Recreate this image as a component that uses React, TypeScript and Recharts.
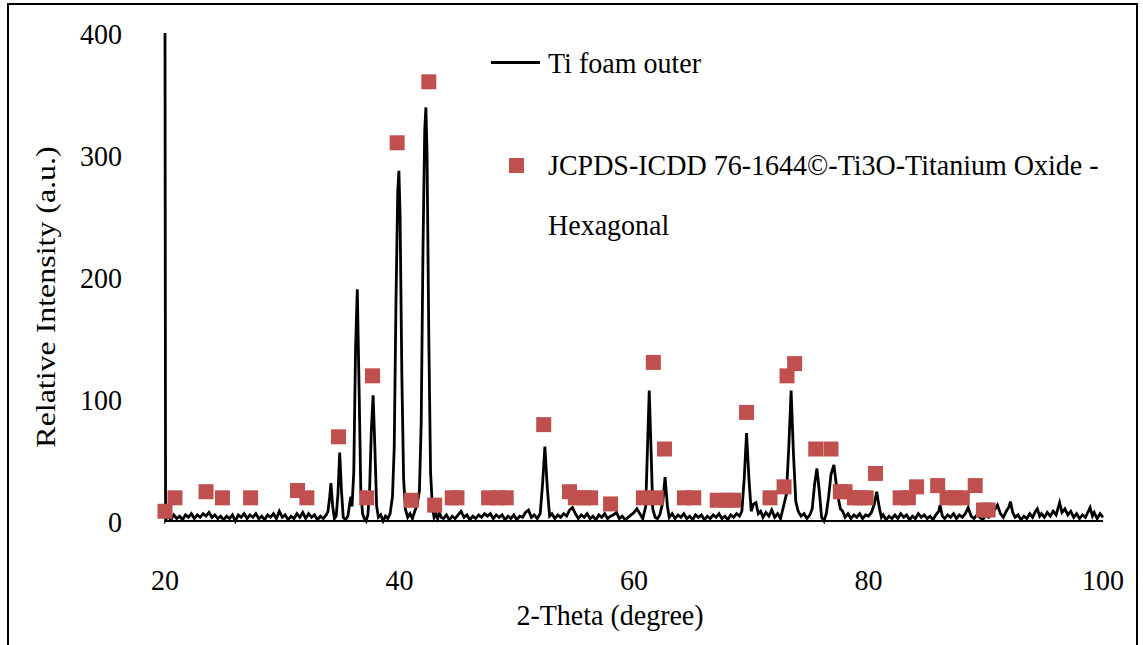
import React from 'react';
import { ComposedChart, Line, Scatter, XAxis, YAxis } from 'recharts';

const FONT = '"Liberation Serif", "Times New Roman", serif';
const STRETCH = 1.08;

// Measured XRD scan: [2-theta, intensity]
const scanLowAngle: [number, number][] = [
  [20.0, 400], [20.05, 1], [20.25, 4], [20.5, 1], [20.75, 5], [21.0, 2], [21.25, 4], [21.5, 1], [21.75, 5],
  [22.0, 3], [22.25, 6], [22.5, 2], [22.75, 5], [23.0, 3], [23.25, 6], [23.5, 4], [23.75, 7], [24.0, 3],
  [24.25, 5], [24.5, 2], [24.75, 4], [25.0, 1], [25.25, 4], [25.5, 2], [25.75, 5], [26.0, 0], [26.25, 5],
  [26.5, 3], [26.75, 6], [27.0, 2], [27.25, 5], [27.5, 3], [27.75, 6], [28.0, 2], [28.25, 4], [28.5, 1],
  [28.75, 5], [29.0, 3], [29.25, 6], [29.5, 2], [29.75, 8], [30.0, 3], [30.25, 5], [30.5, 1], [30.75, 4],
  [31.0, 2], [31.25, 6], [31.5, 3], [31.75, 7], [32.0, 2], [32.25, 6], [32.5, 3], [32.75, 5], [33.0, 1],
  [33.25, 4], [33.5, 2], [33.75, 5],
];

const scanMainPeaks: [number, number][] = [
  [33.9, 8], [34.05, 20], [34.15, 31], [34.3, 12], [34.45, 2], [34.6, 4], [34.75, 22], [34.9, 56], [35.05, 25],
  [35.2, 3], [35.4, 1], [35.6, 4], [35.75, 14], [35.85, 20], [35.95, 12], [36.1, 40], [36.25, 140], [36.4, 190],
  [36.55, 110], [36.7, 25], [36.85, 6], [37.0, 2], [37.15, 0], [37.3, 5], [37.45, 25], [37.6, 75], [37.75, 103],
  [37.9, 60], [38.05, 12], [38.2, 3], [38.4, 5], [38.6, 0], [38.8, 4], [39.0, 2], [39.2, 6], [39.4, 20],
  [39.55, 60], [39.7, 180], [39.85, 270], [39.95, 287], [40.05, 250], [40.2, 120], [40.35, 35], [40.5, 10],
  [40.7, 3], [40.9, 6], [41.1, 2], [41.3, 8], [41.5, 13], [41.7, 25], [41.85, 80], [42.0, 220], [42.15, 320],
  [42.25, 339], [42.35, 300], [42.5, 150], [42.65, 40], [42.8, 12], [42.95, 3], [43.1, 6], [43.25, 2],
  [43.4, 7], [43.55, 3],
];

const scanMidAngle: [number, number][] = [
  [43.75, 2], [44.0, 5], [44.25, 1], [44.5, 4], [44.75, 2], [45.0, 5], [45.25, 8], [45.5, 3], [45.75, 5],
  [46.0, 1], [46.25, 4], [46.5, 2], [46.75, 5], [47.0, 3], [47.25, 6], [47.5, 4], [47.75, 6], [48.0, 2],
  [48.25, 5], [48.5, 3], [48.75, 5], [49.0, 1], [49.25, 4], [49.5, 2], [49.75, 5], [50.0, 1], [50.25, 4],
  [50.5, 3], [50.75, 7], [51.0, 9], [51.25, 3], [51.5, 5], [51.75, 2], [52.0, 6], [52.2, 30], [52.4, 61],
  [52.6, 28], [52.8, 4], [53.0, 6], [53.25, 2], [53.5, 5], [53.75, 3], [54.0, 6], [54.25, 4], [54.5, 9],
  [54.75, 11], [55.0, 6], [55.25, 2], [55.5, 5], [55.75, 3], [56.0, 6], [56.25, 2], [56.5, 4], [56.75, 1],
  [57.0, 5], [57.25, 3], [57.5, 6], [57.75, 2], [58.0, 4], [58.25, 5], [58.5, 7], [58.75, 2], [59.0, 4],
  [59.25, 1], [59.5, 3], [59.75, 5], [60.0, 7], [60.25, 10], [60.5, 6], [60.75, 2], [61.0, 12], [61.15, 60],
  [61.3, 107], [61.45, 60], [61.6, 10], [61.8, 3], [62.0, 2], [62.2, 5], [62.45, 15], [62.65, 36], [62.85, 12],
  [63.0, 3], [63.25, 6], [63.5, 2], [63.75, 5], [64.0, 3], [64.25, 6], [64.5, 2], [64.75, 4], [65.0, 1],
  [65.25, 5], [65.5, 3], [65.75, 5], [66.0, 1], [66.25, 4], [66.5, 2], [66.75, 5], [67.0, 3], [67.25, 6],
  [67.5, 2], [67.75, 4], [68.0, 1], [68.25, 5], [68.5, 3], [68.75, 6],
];

const scanHighAngle: [number, number][] = [
  [69.0, 4], [69.2, 8], [69.4, 35], [69.6, 72], [69.8, 35], [70.0, 8], [70.2, 14], [70.4, 15], [70.6, 6],
  [70.8, 8], [71.0, 3], [71.25, 7], [71.5, 4], [71.75, 9], [72.0, 3], [72.25, 6], [72.5, 2], [72.75, 12],
  [73.0, 22], [73.2, 60], [73.4, 107], [73.6, 55], [73.8, 16], [74.0, 8], [74.25, 4], [74.5, 6], [74.75, 2],
  [75.0, 5], [75.2, 10], [75.4, 30], [75.6, 43], [75.8, 25], [76.0, 3], [76.2, 0], [76.4, 6], [76.6, 20],
  [76.8, 38], [77.05, 46], [77.2, 34], [77.4, 20], [77.6, 10], [77.8, 8], [78.0, 3], [78.25, 6], [78.5, 2],
  [78.75, 5], [79.0, 3], [79.25, 6], [79.5, 2], [79.75, 5], [80.0, 4], [80.25, 7], [80.5, 14], [80.7, 24],
  [80.9, 12], [81.1, 3], [81.25, 5], [81.5, 1], [81.75, 4], [82.0, 2], [82.25, 5], [82.5, 2], [82.75, 6],
  [83.0, 3], [83.25, 5], [83.5, 1], [83.75, 4], [84.0, 2], [84.25, 6], [84.5, 3], [84.75, 5], [85.0, 2],
  [85.25, 4], [85.5, 1], [85.75, 5], [86.0, 8], [86.1, 13], [86.3, 4], [86.5, 2], [86.75, 5], [87.0, 3],
  [87.25, 6], [87.5, 2], [87.75, 5], [88.0, 3], [88.25, 6], [88.5, 11], [88.75, 4], [89.0, 2], [89.25, 5],
  [89.5, 3], [89.75, 1], [90.0, 5], [90.25, 3], [90.5, 6], [90.75, 9], [91.0, 13], [91.25, 6], [91.5, 3],
  [91.75, 8], [92.0, 12], [92.1, 16], [92.3, 7], [92.5, 3], [92.75, 5], [93.0, 1], [93.25, 4], [93.5, 2],
  [93.75, 6], [94.0, 3], [94.25, 8], [94.4, 10], [94.6, 4], [94.75, 6], [95.0, 3], [95.25, 7], [95.5, 4],
  [95.75, 8], [96.0, 5], [96.3, 15], [96.5, 7], [96.75, 10], [97.0, 5], [97.25, 8], [97.5, 3], [97.75, 6],
  [98.0, 2], [98.25, 5], [98.5, 3], [98.75, 8], [98.9, 11], [99.1, 4], [99.25, 7], [99.5, 2], [99.75, 6],
  [100.0, 3],
];

// JCPDS-ICDD 76-1644 reference lines
const jcpdsTheta = [
  20.0, 20.85, 23.5, 24.9, 27.3, 31.3, 32.1, 34.8, 37.2, 37.7, 39.8, 41.0, 42.5, 43.0, 44.5, 44.9,
  47.6, 48.4, 49.1, 52.3, 54.5, 55.0, 55.7, 56.3, 58.0, 60.8, 61.65, 61.9, 62.6, 64.3, 65.1, 67.1,
  67.9, 68.5, 69.6, 71.6, 72.8, 73.05, 73.7, 75.5, 76.8, 77.6, 78.0, 78.8, 79.3, 79.8, 80.6, 82.7,
  83.4, 84.1, 85.9, 86.7, 87.4, 88.0, 89.1, 89.8, 90.2,
];
const jcpdsIntensity = [
  8, 19, 24, 19, 19, 25, 19, 69, 19, 119, 310, 17, 360, 13, 19, 19,
  19, 19, 19, 79, 24, 19, 19, 19, 14, 19, 130, 19, 59, 19, 19, 17,
  17, 17, 89, 19, 28, 119, 129, 59, 59, 24, 24, 19, 19, 19, 39, 19,
  19, 28, 29, 19, 19, 19, 29, 9, 9,
];

const xTicks = [20, 40, 60, 80, 100];
const yTicks = [0, 100, 200, 300, 400];

const lineData = [...scanLowAngle, ...scanMainPeaks, ...scanMidAngle, ...scanHighAngle].map(([x, y]) => ({ x, y }));
const scatterData = jcpdsTheta.map((x, i) => ({ x, y: jcpdsIntensity[i] }));

const SquareMarker = (props: any) => {
  const { cx, cy } = props;
  if (cx == null || cy == null) return null;
  return <rect x={cx - 7.5} y={cy - 7.5} width={15} height={15} fill="#C0504D" />;
};

const XTick = (props: any) => {
  const { x, y, payload } = props;
  return (
    <text
      transform={`translate(${x},${y}) scale(1,${STRETCH})`}
      textAnchor="middle"
      dy="0.71em"
      style={{ fontFamily: FONT, fontSize: 28, fill: '#000' }}
    >
      {payload.value}
    </text>
  );
};

const YTick = (props: any) => {
  const { x, y, payload } = props;
  return (
    <text
      transform={`translate(${x},${y}) scale(1,${STRETCH})`}
      textAnchor="end"
      dy="0.355em"
      style={{ fontFamily: FONT, fontSize: 28, fill: '#000' }}
    >
      {payload.value}
    </text>
  );
};

const YTitle = () => (
  <text
    transform="translate(45,297) rotate(-90) scale(1.14,1)"
    textAnchor="middle"
    dy="0.35em"
    style={{ fontFamily: FONT, fontSize: 28, fill: '#000' }}
  >
    Relative Intensity (a.u.)
  </text>
);

const XTitle = () => (
  <text
    transform={`translate(610,614) scale(1,${STRETCH})`}
    textAnchor="middle"
    dy="0.35em"
    style={{ fontFamily: FONT, fontSize: 28, fill: '#000' }}
  >
    2-Theta (degree)
  </text>
);

const legendText: React.CSSProperties = {
  position: 'absolute',
  fontFamily: FONT,
  fontSize: 28,
  color: '#000',
  whiteSpace: 'nowrap',
  lineHeight: '40px',
  height: 40,
  transform: `scaleY(${STRETCH})`,
  transformOrigin: 'left center',
};

export default function App() {
  return (
    <div style={{ position: 'absolute', left: 0, top: 0, width: 1143, height: 645, overflow: 'hidden', background: '#fff' }}>
      <div
        style={{
          position: 'absolute',
          left: 7,
          top: 3,
          width: 1131,
          height: 700,
          border: '2px solid #000',
          boxSizing: 'border-box',
        }}
      />
      <div style={{ position: 'absolute', left: 0, top: 0 }}>
        <ComposedChart width={1143} height={645} margin={{ top: 33, right: 40, bottom: 64, left: 0 }}>
          <XAxis
            type="number"
            dataKey="x"
            domain={[20, 100]}
            ticks={xTicks}
            height={60}
            tickSize={0}
            tickMargin={48}
            tickLine={false}
            axisLine={{ stroke: '#000', strokeWidth: 2 }}
            tick={<XTick />}
            label={<XTitle />}
          />
          <YAxis
            type="number"
            domain={[0, 400]}
            ticks={yTicks}
            width={165}
            tickSize={0}
            tickMargin={43}
            tickLine={false}
            axisLine={false}
            tick={<YTick />}
            label={<YTitle />}
          />
          <Scatter
            data={scatterData}
            dataKey="y"
            fill="#C0504D"
            shape={<SquareMarker />}
            isAnimationActive={false}
          />
          <Line
            data={lineData}
            dataKey="y"
            type="linear"
            stroke="#000"
            strokeWidth={2.8}
            dot={false}
            activeDot={false}
            isAnimationActive={false}
          />
        </ComposedChart>
      </div>
      <div style={{ position: 'absolute', left: 491, top: 61, width: 49, height: 3, background: '#000' }} />
      <div style={{ ...legendText, left: 548, top: 43 }}>Ti foam outer</div>
      <div style={{ position: 'absolute', left: 509, top: 158, width: 15, height: 15, background: '#C0504D' }} />
      <div style={{ ...legendText, left: 548, top: 145 }}>JCPDS-ICDD 76-1644©-Ti3O-Titanium Oxide -</div>
      <div style={{ ...legendText, left: 548, top: 205 }}>Hexagonal</div>
    </div>
  );
}
